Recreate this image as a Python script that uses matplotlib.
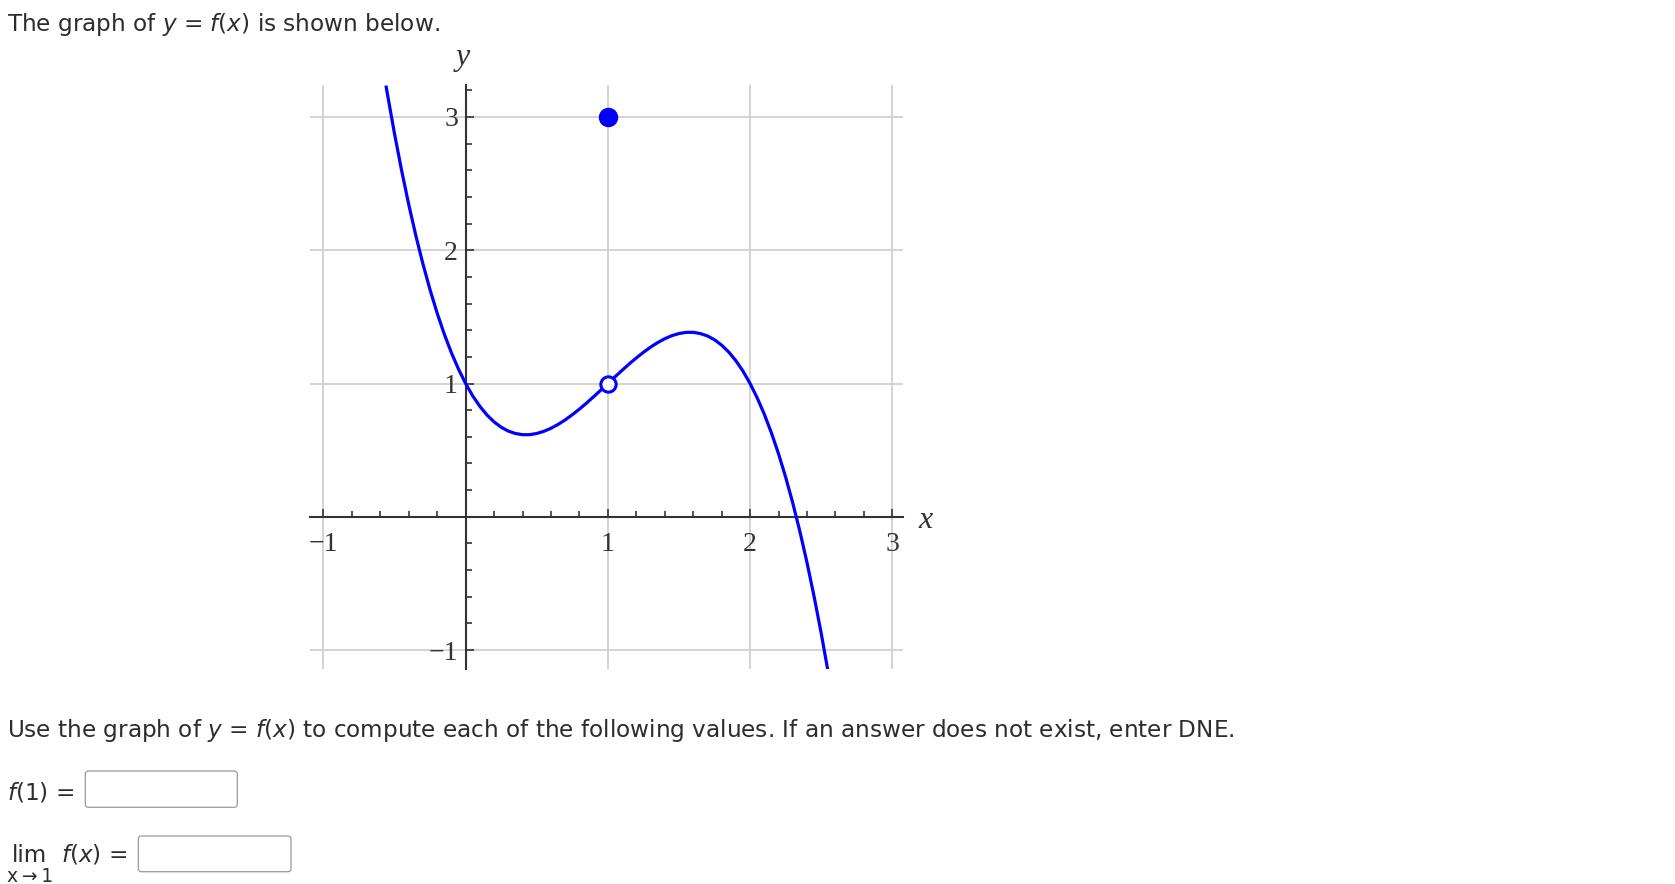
import matplotlib
matplotlib.use("Agg")
import matplotlib.pyplot as plt
from matplotlib.patches import FancyBboxPatch
from matplotlib.ticker import MultipleLocator

# points, left piece (up to the hole at x=1) and right piece
x_left = [-0.56, -0.55, -0.5, -0.45, -0.4, -0.35, -0.3, -0.25, -0.2, -0.15,
          -0.1, -0.05, 0.0, 0.05, 0.1, 0.15, 0.2, 0.25, 0.3, 0.35,
          0.4, 0.45, 0.5, 0.55, 0.6, 0.65, 0.7, 0.75, 0.8, 0.85,
          0.9, 0.95, 1.0]
y_left = [3.236, 3.174, 2.875, 2.599, 2.344, 2.110, 1.897, 1.703, 1.528, 1.371,
          1.231, 1.108, 1.000, 0.907, 0.829, 0.764, 0.712, 0.672, 0.643, 0.625,
          0.616, 0.616, 0.625, 0.641, 0.664, 0.693, 0.727, 0.766, 0.808, 0.853,
          0.901, 0.950, 1.000]
x_right = [1.0, 1.05, 1.1, 1.15, 1.2, 1.25, 1.3, 1.35, 1.4, 1.45,
           1.5, 1.55, 1.6, 1.65, 1.7, 1.75, 1.8, 1.85, 1.9, 1.95,
           2.0, 2.05, 2.1, 2.15, 2.2, 2.25, 2.3, 2.35, 2.4, 2.45,
           2.5, 2.55, 2.56]
y_right = [1.000, 1.050, 1.099, 1.147, 1.192, 1.234, 1.273, 1.307, 1.336, 1.359,
           1.375, 1.384, 1.384, 1.375, 1.357, 1.328, 1.288, 1.236, 1.171, 1.093,
           1.000, 0.892, 0.769, 0.629, 0.472, 0.297, 0.103, -0.110, -0.344, -0.599,
           -0.875, -1.174, -1.236]
filled_pt = (1, 3)
open_pt = (1, 1)

xticks = [-1, 0, 1, 2, 3]
xlabels = ["\u22121", "", "1", "2", "3"]
yticks = [-1, 0, 1, 2, 3]
ylabels = ["\u22121", "", "1", "2", "3"]

W, H = 1675, 884
txt = "#2d2d2d"
axc = "#333333"

fig = plt.figure(figsize=(W / 100, H / 100), dpi=100)

ax = fig.add_axes([310 / W, 1 - 668.7 / H, (903.3 - 310) / W, (668.7 - 85) / H])
ax.set_xlim(-1.094, 3.077)
ax.set_ylim(-1.14, 3.24)

ax.plot(x_left, y_left, color="blue", lw=2.3, solid_capstyle="butt", zorder=4)
ax.plot(x_right, y_right, color="blue", lw=2.3, solid_capstyle="butt", zorder=4)
ax.plot(*filled_pt, "o", color="blue", ms=13, zorder=5, clip_on=False)
ax.plot(*open_pt, "o", mfc="white", mec="blue", mew=2.2, ms=11, zorder=5)

for s in ["top", "right"]:
    ax.spines[s].set_visible(False)
ax.spines["left"].set_position(("data", 0))
ax.spines["bottom"].set_position(("data", 0))
for s in ["left", "bottom"]:
    ax.spines[s].set_color(axc)
    ax.spines[s].set_linewidth(1.5)
    ax.spines[s].set_zorder(3)

ax.set_xticks(xticks, xlabels)
ax.set_yticks(yticks, ylabels)
ax.xaxis.set_minor_locator(MultipleLocator(0.2))
ax.yaxis.set_minor_locator(MultipleLocator(0.2))
ax.tick_params(which="both", direction="in", color=axc, width=1.2)
ax.tick_params(which="major", length=6)
ax.tick_params(which="minor", length=4.5)
ax.tick_params(axis="x", which="major", pad=11)
ax.tick_params(axis="y", which="major", pad=5.5)
for lab in ax.get_xticklabels() + ax.get_yticklabels():
    lab.set_fontfamily("Liberation Serif")
    lab.set_fontsize(20)
    lab.set_color(axc)

ax.grid(which="major", color="#d0d0d0", lw=1.3, zorder=0)
ax.set_axisbelow(True)

fig.text(463 / W, 1 - 58 / H, "y", family="Liberation Serif", style="italic",
         fontsize=23, color=axc, ha="center", va="center")
fig.text(926 / W, 1 - 520 / H, "x", family="Liberation Serif", style="italic",
         fontsize=23, color=axc, ha="center", va="center")

# question text
fs = 16.7
fig.text(7 / W, 1 - 31 / H, r"The graph of $y$ = $f$($x$) is shown below.",
         fontsize=fs, color=txt, va="baseline")
fig.text(7 / W, 1 - 737 / H,
         r"Use the graph of $y$ = $f$($x$) to compute each of the following values. "
         r"If an answer does not exist, enter DNE.",
         fontsize=fs, color=txt, va="baseline")
fig.text(7 / W, 1 - 800 / H, r"$f$(1) =", fontsize=fs, color=txt, va="baseline")
fig.text(12 / W, 1 - 862 / H, "lim", fontsize=fs, color=txt, va="baseline")
fig.text(7 / W, 1 - 882 / H, "x\u2009\u2192\u20091", fontsize=13.5, color=txt,
         va="baseline")
fig.text(61 / W, 1 - 862 / H, r"$f$($x$) =", fontsize=fs, color=txt, va="baseline")

# answer boxes, in pixels
for x0, y0, x1, y1 in [(85.3, 771, 237.3, 807.3), (138.3, 836, 291, 871.7)]:
    box = FancyBboxPatch((x0, H - y1), x1 - x0, y1 - y0,
                         boxstyle="round,pad=0,rounding_size=3",
                         fc="white", ec="#9a9a9a", lw=0.9, transform=None)
    fig.add_artist(box)

fig.savefig("out.png", dpi=100)
